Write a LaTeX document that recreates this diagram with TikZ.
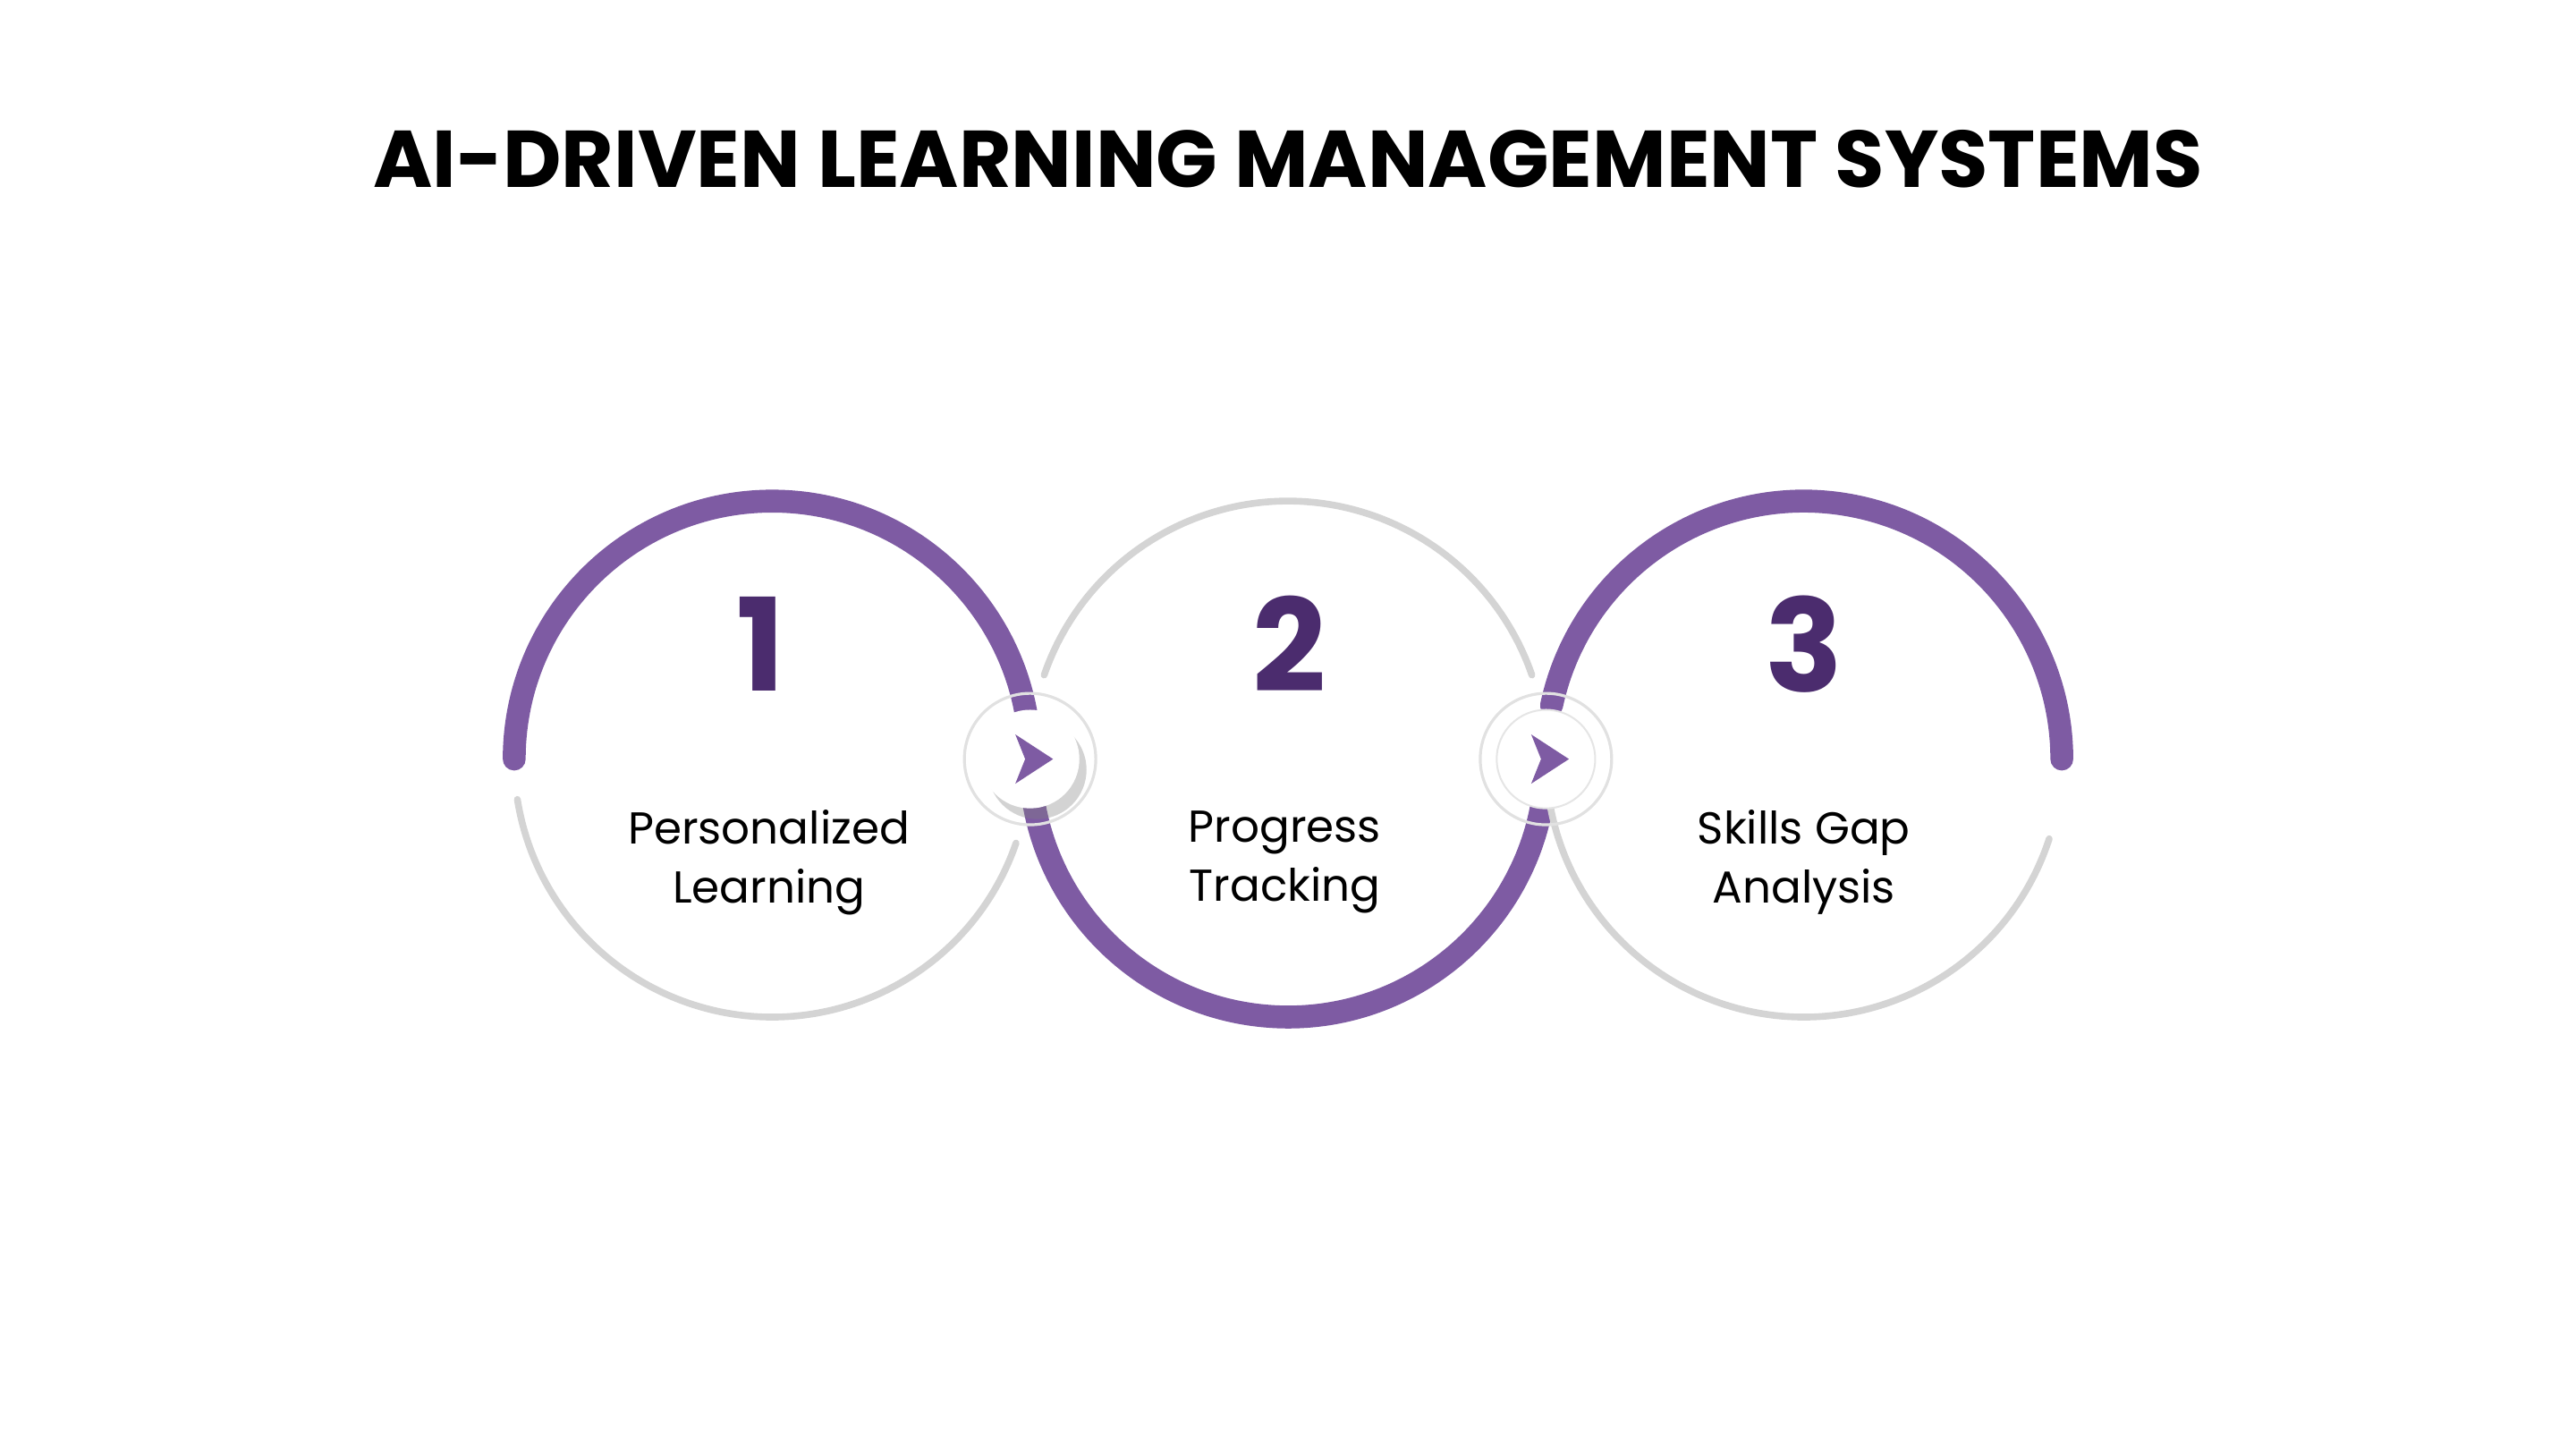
\documentclass[tikz,border=0pt]{standalone}
\usepackage{fontspec}
\setmainfont{Poppins}
\usetikzlibrary{shadows}
\definecolor{pur}{HTML}{7E5BA3}
\definecolor{dpur}{HTML}{4B2C6E}
\definecolor{gry}{HTML}{D4D4D4}
\begin{document}
\begin{tikzpicture}[x=0.4592pt,y=-0.4592pt,
  parc/.style={pur,line width=6.4pt,line cap=round},
  garc/.style={gry,line width=1.9pt,line cap=round},
  num/.style={dpur,font=\fontsize{36}{36}\selectfont\bfseries},
  lbl/.style={align=center,font=\fontsize{12.5}{16.5}\selectfont},
  ring/.style={draw=gry!70,line width=0.8pt},
  tip/.style={fill=pur}]
\useasboundingbox (0,0) rectangle (1568,882);
\node (title) at (784,97) {\fontsize{22.5}{26}\selectfont\bfseries AI-DRIVEN LEARNING MANAGEMENT SYSTEMS};
% circle 1
\coordinate (c1) at (470,462);
\coordinate (c2) at (784,462);
\coordinate (c3) at (1098,462);
\draw[parc] ([shift={(180:157)}]c1) arc[start angle=180,end angle=360,radius=157];
\draw[garc] ([shift={(19:157)}]c1) arc[start angle=19,end angle=171,radius=157];
\draw[garc] ([shift={(199:157)}]c2) arc[start angle=199,end angle=341,radius=157];
\draw[parc] ([shift={(5:157)}]c2) arc[start angle=5,end angle=172,radius=157];
\draw[parc] ([shift={(192:157)}]c3) arc[start angle=192,end angle=360,radius=157];
\draw[garc] ([shift={(18:157)}]c3) arc[start angle=18,end angle=171,radius=157];
\node[num] (n1) at (463,392) {1};
\node[num] (n2) at (785,392) {2};
\node[num] (n3) at (1098,392) {3};
\node[lbl] (t1) at (468,525) {Personalized\\Learning};
\node[lbl] (t2) at (782,525) {Progress\\Tracking};
\node[lbl] (t3) at (1098,525) {Skills Gap\\Analysis};
% arrow buttons
\coordinate (a1) at (627,462);
\coordinate (a2) at (941,462);
\draw[ring] (a1) circle[radius=40];
\fill[white,drop shadow={shadow xshift=2pt,shadow yshift=-3pt,opacity=0.35}] (a1) circle[radius=30];
\draw[ring] (a2) circle[radius=40];
\filldraw[white,draw=gry!60,line width=0.5pt] (a2) circle[radius=30];
\foreach \a in {a1,a2}{
  \fill[tip] ([shift={(14,0)}]\a) -- ([shift={(-9,-15)}]\a) -- ([shift={(-3,0)}]\a) -- ([shift={(-9,15)}]\a) -- cycle;
}
\end{tikzpicture}
\end{document}
